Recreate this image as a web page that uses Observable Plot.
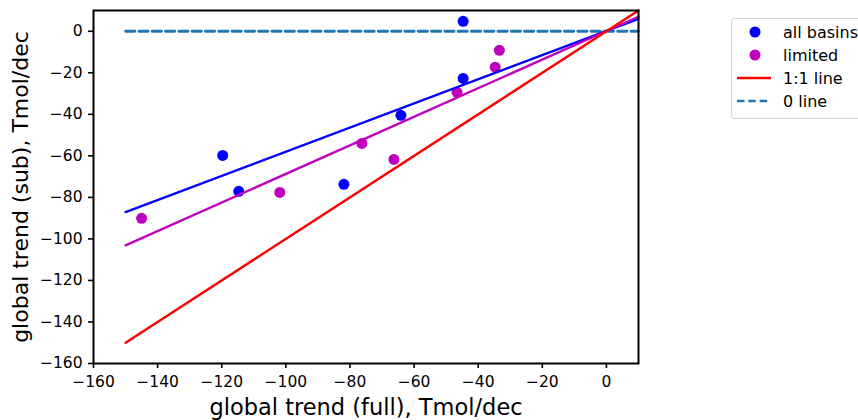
<!DOCTYPE html>
<html>
<head>
<meta charset="utf-8">
<script src="https://cdn.jsdelivr.net/npm/d3@7"></script>
<script src="https://cdn.jsdelivr.net/npm/@observablehq/plot@0.6"></script>
<style>
  html, body { margin: 0; padding: 0; background: #fff; }
  #chart svg { display: block; }
</style>
</head>
<body>
<div id="chart"></div>
<script>
// Data
const allBasinsX = [-44.7, -44.7, -64.1, -81.9, -119.7, -114.7];
const allBasinsY = [4.8, -22.7, -40.5, -73.7, -59.8, -77.1];
const limitedX = [-145.0, -101.9, -76.3, -66.3, -46.6, -34.7, -33.4];
const limitedY = [-90.1, -77.6, -54.0, -61.7, -29.4, -17.3, -9.2];
const fitX = [-150, 10];
const allBasinsFitY = [-87.1, 6.0];
const limitedFitY = [-103.1, 7.0];
const oneToOneY = [-150, 10];
const zeroY = [0, 0];
const xTicks = [-160, -140, -120, -100, -80, -60, -40, -20, 0];
const yTicks = [-160, -140, -120, -100, -80, -60, -40, -20, 0];

const legendItems = [
  {label: "all basins", kind: "dot", color: "#0000ff"},
  {label: "limited", kind: "dot", color: "#bf00bf"},
  {label: "1:1 line", kind: "line", color: "#ff0000"},
  {label: "0 line", kind: "dash", color: "#1f77b4"}
];

const pts = (xs, ys) => xs.map((x, i) => ({x, y: ys[i]}));
const fmt = d => d < 0 ? "\u2212" + Math.abs(d) : String(d);

const plot = Plot.plot({
  width: 858,
  height: 420,
  marginLeft: 93,
  marginRight: 220,
  marginTop: 10,
  marginBottom: 57,
  style: {fontFamily: "DejaVu Sans", fontSize: "15.5px", color: "#000", background: "#fff"},
  x: {domain: [-160, 10], label: null},
  y: {domain: [-160, 10], label: null},
  marks: [
    Plot.line(pts(fitX, zeroY), {x: "x", y: "y", stroke: "#1f77b4", strokeWidth: 2.8, strokeDasharray: "9.3,4"}),
    Plot.dot(pts(allBasinsX, allBasinsY), {x: "x", y: "y", r: 5.5, fill: "#0000ff", stroke: null}),
    Plot.dot(pts(limitedX, limitedY), {x: "x", y: "y", r: 5.5, fill: "#bf00bf", stroke: null}),
    Plot.line(pts(fitX, allBasinsFitY), {x: "x", y: "y", stroke: "#0000ff", strokeWidth: 2.4}),
    Plot.line(pts(fitX, limitedFitY), {x: "x", y: "y", stroke: "#bf00bf", strokeWidth: 2.4}),
    Plot.line(pts(fitX, oneToOneY), {x: "x", y: "y", stroke: "#ff0000", strokeWidth: 2.4}),
    Plot.axisX({ticks: xTicks, tickFormat: fmt, tickSize: 5, tickPadding: 7, label: null, fontSize: 15.5, strokeWidth: 1.6}),
    Plot.axisY({ticks: yTicks, tickFormat: fmt, tickSize: 5, tickPadding: 6, label: null, fontSize: 15.5, strokeWidth: 1.6}),
    Plot.frame({stroke: "#000", strokeWidth: 2})
  ]
});

const svg = d3.select(plot);
// axis titles
svg.append("text")
  .attr("x", 366).attr("y", 415)
  .attr("text-anchor", "middle")
  .attr("font-family", "DejaVu Sans").attr("font-size", 22.5).attr("fill", "#000")
  .text("global trend (full), Tmol/dec");
svg.append("text")
  .attr("transform", "translate(28,187) rotate(-90)")
  .attr("text-anchor", "middle")
  .attr("font-family", "DejaVu Sans").attr("font-size", 22).attr("fill", "#000")
  .text("global trend (sub), Tmol/dec");

// legend
const lg = svg.append("g").attr("font-family", "DejaVu Sans").attr("font-size", 16).attr("text-anchor", "start");
lg.append("rect").attr("x", 731.5).attr("y", 18.5).attr("width", 140).attr("height", 100)
  .attr("rx", 3).attr("fill", "#fff").attr("stroke", "#d0d0d0");
legendItems.forEach((d, i) => {
  const cy = 32 + i * 23;
  if (d.kind === "dot") {
    lg.append("circle").attr("cx", 755).attr("cy", cy).attr("r", 5.5).attr("fill", d.color);
  } else {
    lg.append("line").attr("x1", 737).attr("x2", 771).attr("y1", cy).attr("y2", cy)
      .attr("stroke", d.color).attr("stroke-width", 2.6)
      .attr("stroke-dasharray", d.kind === "dash" ? "7.5,3.8" : null);
  }
  lg.append("text").attr("x", 783).attr("y", cy).attr("dy", "0.35em").attr("fill", "#000")
    .attr("text-anchor", "start").text(d.label);
});

document.getElementById("chart").appendChild(plot);
</script>
</body>
</html>
